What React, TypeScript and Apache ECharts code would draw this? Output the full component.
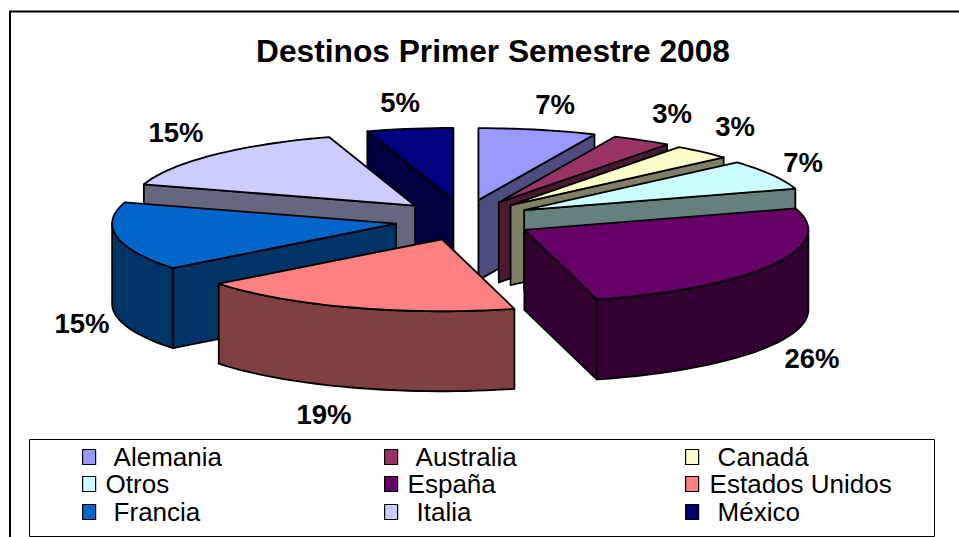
import React, { useEffect, useRef } from "react";
import * as echarts from "echarts";

const TITLE = "Destinos Primer Semestre 2008";
const CATEGORIES = ["Alemania", "Australia", "Canadá", "Otros", "España", "Estados Unidos", "Francia", "Italia", "México"];
// shares; the printed labels are these rounded
const VALUES = [6.7, 3.4, 3.4, 6.7, 25.7, 18.5, 15.4, 15.3, 4.9];
const TOP_COLORS = ["#9999FF", "#993366", "#FFFFCC", "#CCFFFF", "#660066", "#FF8080", "#0066CC", "#CCCCFF", "#000080"];
const SIDE_COLORS = ["#4C4C7F", "#4C1933", "#7F7F66", "#667F7F", "#330033", "#7F4040", "#003366", "#66667F", "#000040"];

// painter's order (indices into CATEGORIES), back to front
const DRAW_ORDER = [8, 7, 6, 0, 1, 2, 3, 4, 5];

// layout
const W = 959;
const H = 537;
const FONT = "'Liberation Sans', Arial, sans-serif";
const CX = 464;
const CY = 220;
const RX = 284;
const RY = 72;
const EXPLODE_X = 69;
const EXPLODE_Y = 20.3;
const DEPTH = 80;
const LABEL_XY: [number, number][] = [
  [555, 104], [672, 113], [735, 126], [803, 162], [812, 358], [324, 414], [82, 323], [176, 132], [400, 102],
];
const LEGEND_X = [82, 384, 685];
const LEGEND_Y = [444, 471, 499];
const LEGEND_TEXT_PAD = [13, 13, 14, 5, 5, 6, 13, 14, 14];

const rad = (d: number) => (d * Math.PI) / 180;
const TOTAL = VALUES.reduce((a, b) => a + b, 0);
const STARTS: number[] = [];
VALUES.reduce((acc, v, i) => {
  STARTS[i] = (acc / TOTAL) * 360;
  return acc + v;
}, 0);

function arcPoints(ax: number, ay: number, a0: number, a1: number, dy = 0) {
  const pts: number[][] = [];
  const n = Math.max(2, Math.ceil(Math.abs(a1 - a0) / 2));
  for (let k = 0; k <= n; k++) {
    const a = rad(a0 + ((a1 - a0) * k) / n);
    pts.push([ax + RX * Math.sin(a), ay - RY * Math.cos(a) + dy]);
  }
  return pts;
}

function sliceRenderer(i: number) {
  return () => {
    const a0 = STARTS[i];
    const a1 = a0 + (VALUES[i] / TOTAL) * 360;
    const mid = rad((a0 + a1) / 2);
    const ax = CX + EXPLODE_X * Math.sin(mid);
    const ay = CY - EXPLODE_Y * Math.cos(mid);
    const p = (a: number) => [ax + RX * Math.sin(rad(a)), ay - RY * Math.cos(rad(a))];
    const side = { fill: SIDE_COLORS[i], stroke: "#000", lineWidth: 1.8, lineJoin: "round" };
    const children: any[] = [];
    const wall = (a: number) => {
      const q = p(a);
      children.push({
        type: "polygon",
        shape: { points: [[ax, ay], q, [q[0], q[1] + DEPTH], [ax, ay + DEPTH]] },
        style: side,
      });
    };
    if (a0 > 180 && a0 < 360) wall(a0);
    if (a1 > 0 && a1 < 180) wall(a1);
    const o0 = Math.max(a0, 90);
    const o1 = Math.min(a1, 270);
    if (o1 > o0) {
      const topArc = arcPoints(ax, ay, o0, o1);
      const botArc = arcPoints(ax, ay, o1, o0, DEPTH);
      children.push({ type: "polygon", shape: { points: [...topArc, ...botArc] }, style: side });
    }
    children.push({
      type: "polygon",
      shape: { points: [[ax, ay], ...arcPoints(ax, ay, a0, a1)] },
      style: { fill: TOP_COLORS[i], stroke: "#000", lineWidth: 1.8, lineJoin: "round" },
    });
    children.push({
      type: "text",
      x: LABEL_XY[i][0],
      y: LABEL_XY[i][1],
      style: {
        text: `${Math.round(VALUES[i])}%`,
        fontFamily: FONT,
        fontWeight: "bold",
        fontSize: 27.5,
        fill: "#000",
        align: "center",
        verticalAlign: "middle",
      },
    });
    return { type: "group", children };
  };
}

export default function App() {
  const ref = useRef<HTMLDivElement>(null);
  useEffect(() => {
    const chart = echarts.init(ref.current!, undefined, { renderer: "svg" });
    chart.setOption({
      animation: false,
      backgroundColor: "#fff",
      title: {
        text: TITLE,
        left: 488,
        top: 30,
        textAlign: "center",
        textStyle: { fontFamily: FONT, fontWeight: "bold", fontSize: 31.7, color: "#000" },
      },
      legend: CATEGORIES.map((name, i) => ({
        show: true,
        orient: "horizontal",
        left: LEGEND_X[i % 3],
        top: LEGEND_Y[Math.floor(i / 3)],
        padding: 0,
        itemWidth: 13,
        itemHeight: 15,
        selectedMode: false,
        data: [{ name, icon: "rect", itemStyle: { color: TOP_COLORS[i], borderColor: "#000", borderWidth: 1.2 } }],
        textStyle: {
          fontFamily: FONT,
          fontSize: 26,
          color: "#000",
          padding: [0, 0, 0, LEGEND_TEXT_PAD[i]],
        },
      })),
      graphic: [
        {
          type: "polyline",
          shape: { points: [[10, H], [10, 11.5], [W, 11.5]] },
          style: { stroke: "#000", lineWidth: 2, fill: "none" },
          silent: true,
        },
        {
          type: "rect",
          shape: { x: 29.5, y: 439.5, width: 905, height: 97 },
          style: { stroke: "#000", lineWidth: 1, fill: "none" },
          silent: true,
        },
      ],
      series: DRAW_ORDER.map((i) => ({
        type: "custom",
        name: CATEGORIES[i],
        coordinateSystem: "none",
        silent: true,
        itemStyle: { color: TOP_COLORS[i] },
        data: [[VALUES[i]]],
        renderItem: sliceRenderer(i),
      })),
    });
    return () => chart.dispose();
  }, []);
  return <div ref={ref} style={{ position: "absolute", left: 0, top: 0, width: W, height: H }} />;
}
